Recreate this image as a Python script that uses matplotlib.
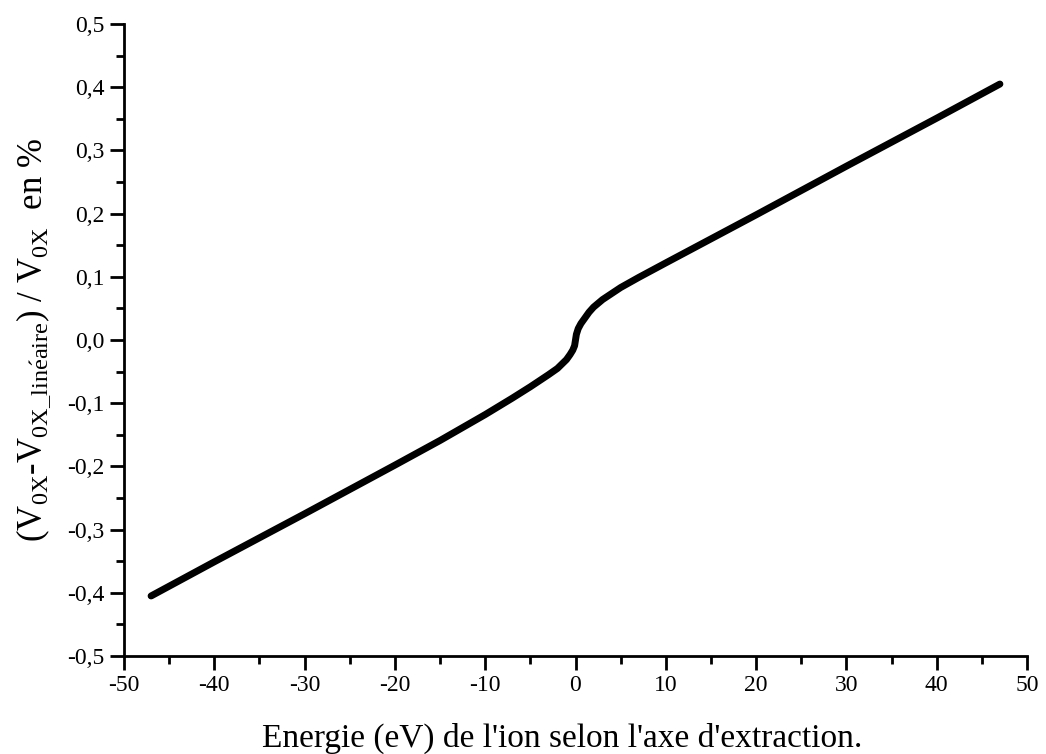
import matplotlib
matplotlib.use("Agg")
import matplotlib.pyplot as plt
from matplotlib.ticker import MultipleLocator, FuncFormatter

# energy (eV) and relative deviation (%)
energie = [-47, -40, -30, -20, -15, -10, -7, -5, -3, -2, -1.5, -1, -0.6, -0.3, -0.1,
           0, 0.1, 0.3, 0.6, 1, 1.5, 2, 3, 5, 7, 10, 15, 20, 30, 40, 47]
ecart = [-0.405, -0.351, -0.275, -0.198, -0.159, -0.118, -0.092, -0.074, -0.055,
         -0.045, -0.038, -0.031, -0.023, -0.016, -0.009, 0.0, 0.009, 0.018, 0.026,
         0.034, 0.044, 0.052, 0.064, 0.083, 0.099, 0.122, 0.160, 0.198, 0.275, 0.351,
         0.405]

plt.rcParams['font.family'] = ['Liberation Serif', 'DejaVu Serif']

fig = plt.figure(figsize=(10.46, 7.54), dpi=100)
ax = fig.add_axes([124 / 1046, 1 - 656 / 754, (1027 - 124) / 1046, (656 - 24) / 754])

ax.plot(energie, ecart, color='black', lw=5, solid_capstyle='round', solid_joinstyle='round')

ax.set_xlim(-50, 50)
ax.set_ylim(-0.5, 0.5)
ax.xaxis.set_major_locator(MultipleLocator(10))
ax.xaxis.set_minor_locator(MultipleLocator(5))
ax.yaxis.set_major_locator(MultipleLocator(0.1))
ax.yaxis.set_minor_locator(MultipleLocator(0.05))
ax.yaxis.set_major_formatter(FuncFormatter(lambda v, p: f"{v:.1f}".replace('.', ',').replace('-0,0', '0,0')))
ax.xaxis.set_major_formatter(FuncFormatter(lambda v, p: f"{v:.0f}"))

for s in ['top', 'right']:
    ax.spines[s].set_visible(False)
for s in ['left', 'bottom']:
    ax.spines[s].set_linewidth(2)

ax.tick_params(which='major', direction='out', length=10, width=2, labelsize=17, pad=4)
ax.tick_params(which='minor', direction='out', length=6, width=2)

ax.set_xlabel("Energie (eV) de l'ion selon l'axe d'extraction.", fontsize=24)
ax.xaxis.set_label_coords(0.485, -0.105)
ax.set_ylabel(r"(V$_{\mathregular{0X}}$-V$_{\mathregular{0X\_lin\acute{e}aire}}$) / V$_{\mathregular{0X}}$  en %",
              fontsize=25, labelpad=10)

fig.savefig('out.png', dpi=100)
